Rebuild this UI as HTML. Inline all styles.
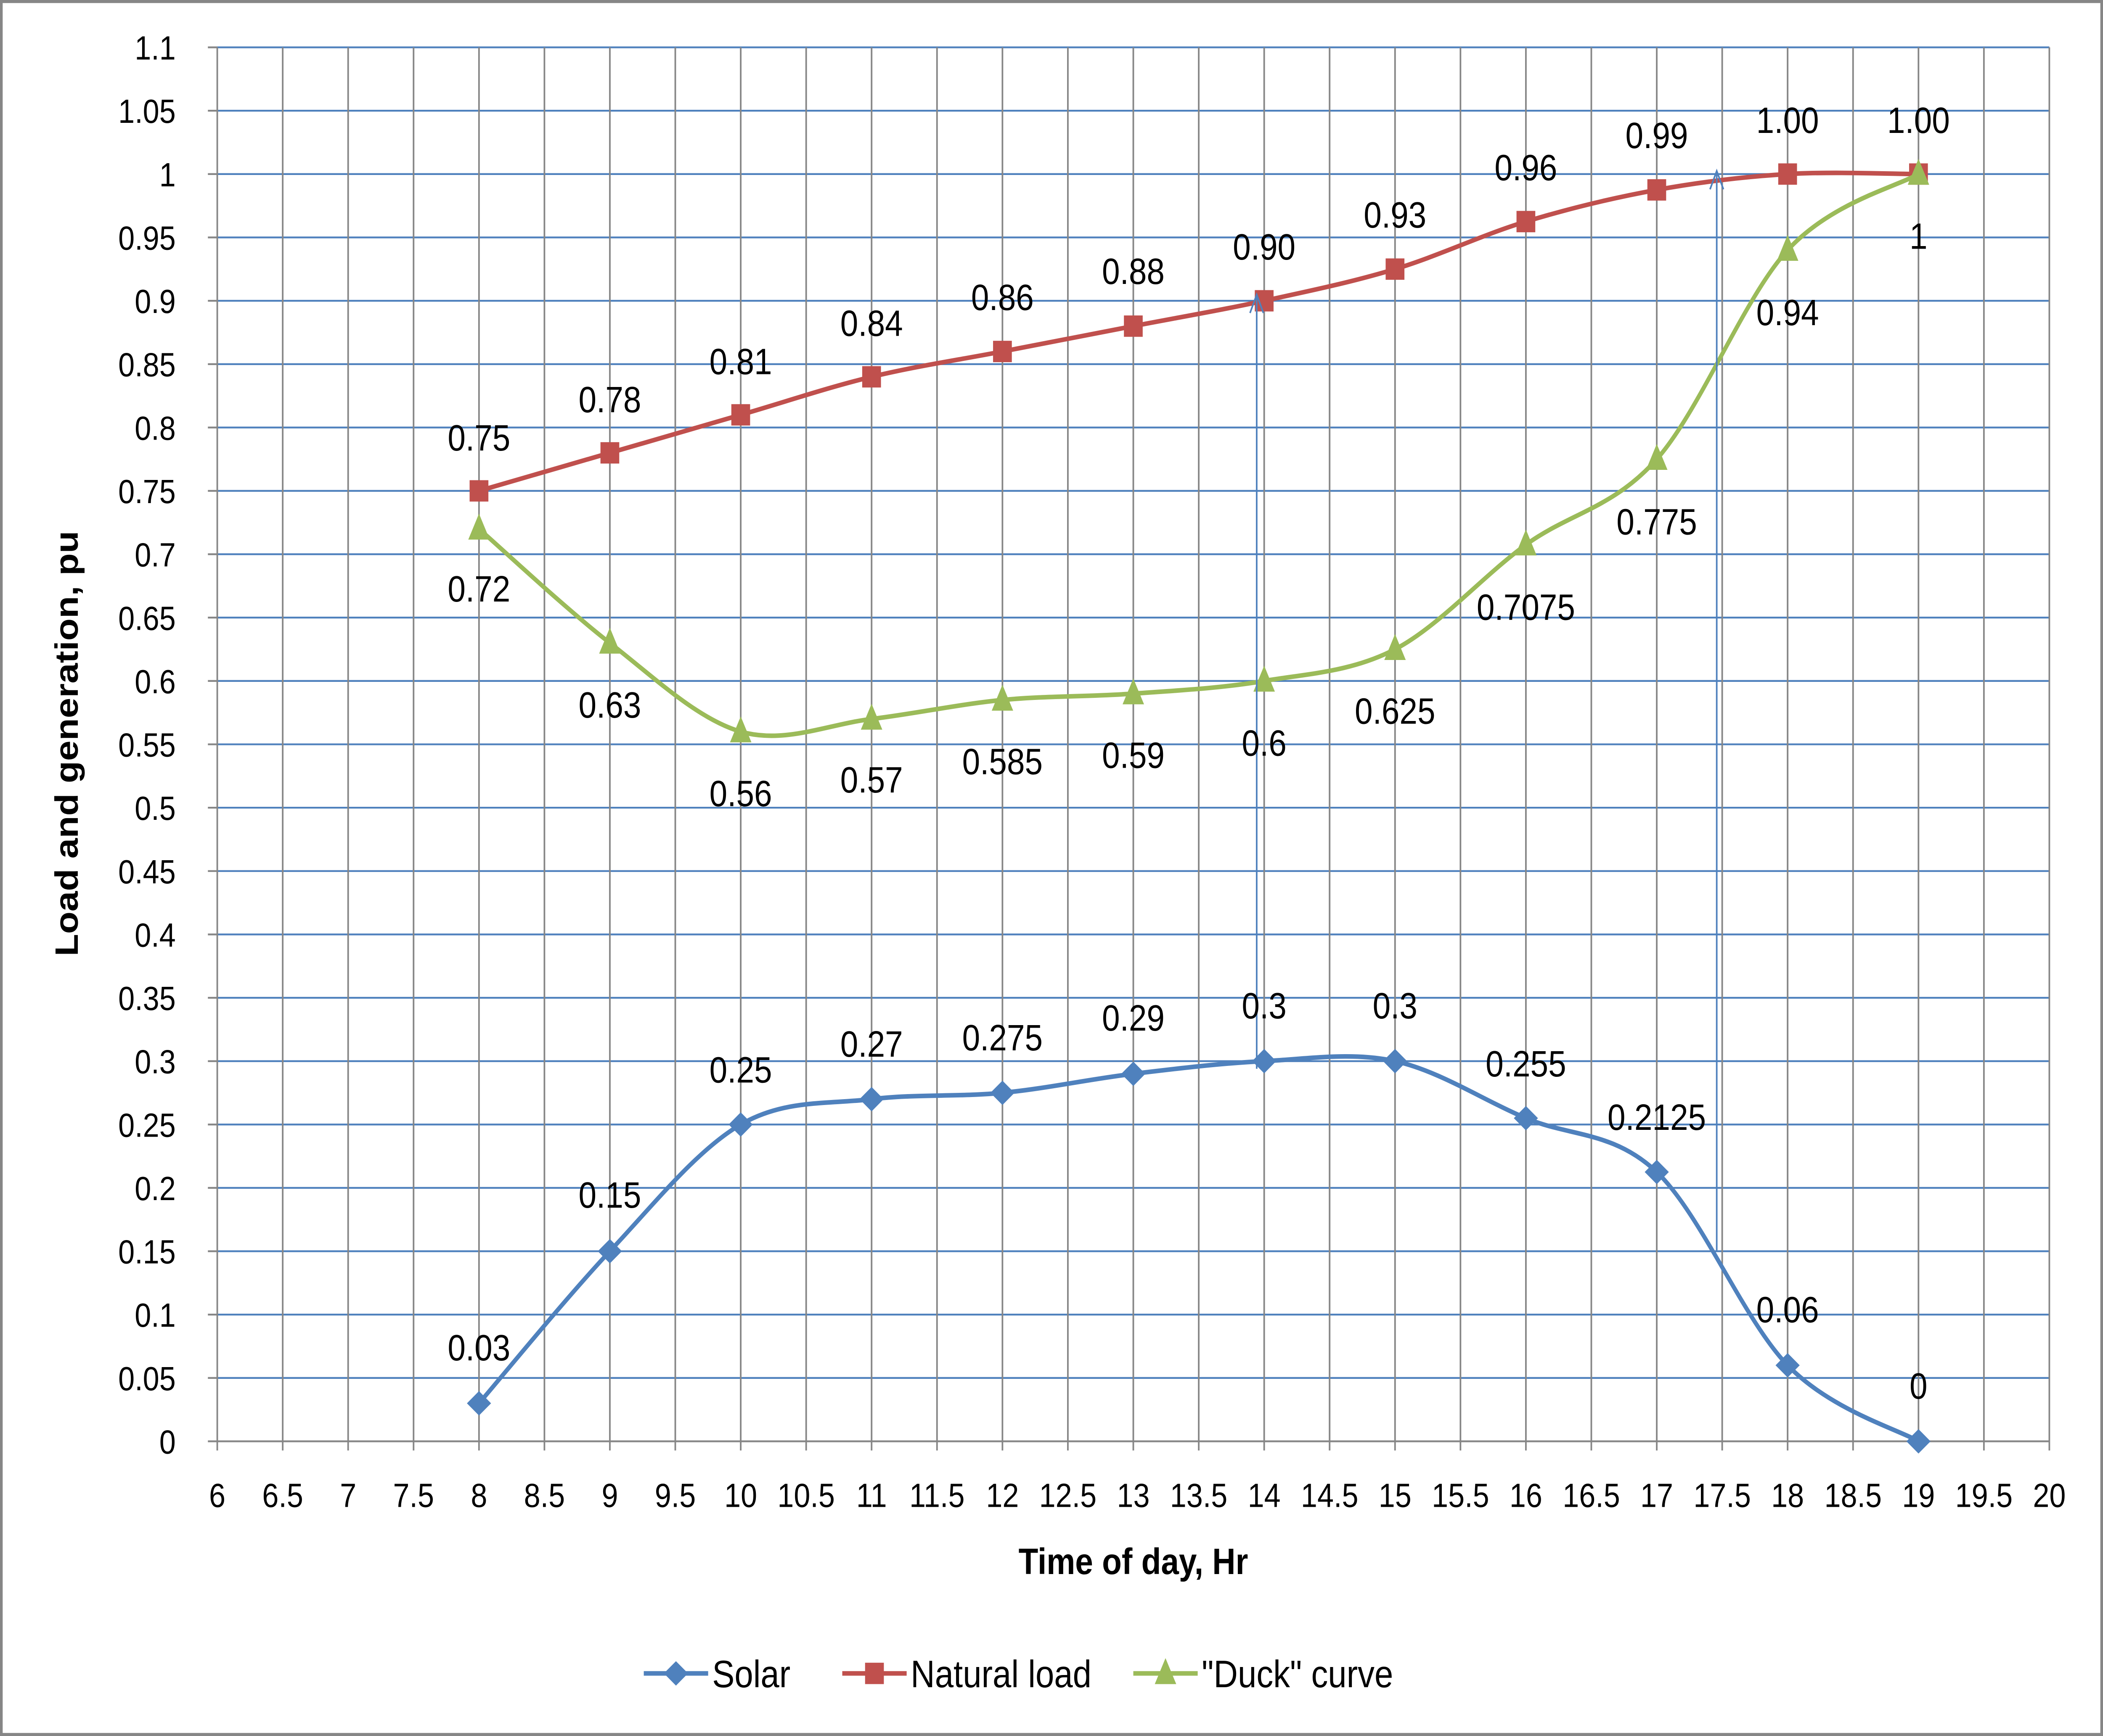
<!DOCTYPE html>
<html><head><meta charset="utf-8"><style>html,body{margin:0;padding:0;background:#fff;overflow:hidden;width:100%;height:100%}svg{display:block;width:100vw;height:100vh}text{font-family:"Liberation Sans",sans-serif;fill:#000}</style></head>
<body>
<svg id="s" viewBox="0 0 1568 1137" preserveAspectRatio="none" xmlns="http://www.w3.org/2000/svg">
<rect x="1" y="1" width="1566" height="1135" fill="#fff" stroke="#868686" stroke-width="2"/>
<g id="grid"></g>
<g id="series"></g>
<g id="labels" font-size="24" text-anchor="middle"></g>
<text x="845" y="1031" font-size="24" font-weight="bold" text-anchor="middle">Time of day, Hr</text>
<text transform="translate(58,487) rotate(-90)" font-size="24" font-weight="bold" text-anchor="middle">Load and generation, pu</text>
<g id="legend"></g>
</svg>
<script>
var NS="http://www.w3.org/2000/svg";
function X(h){return 162+(h-6)*97.571;}
function Y(v){return 944-v*(944-31)/1.1;}
function el(p,t,a,txt){var e=document.createElementNS(NS,t);for(var k in a)e.setAttribute(k,a[k]);if(txt!==undefined)e.textContent=txt;p.appendChild(e);return e;}
var g=document.getElementById('grid');
for(var i=0;i<=22;i++){var y=Y(i*0.05);
 el(g,'line',{x1:162,x2:1528,y1:y,y2:y,stroke:i==0?'#868686':'#4f81bd','stroke-width':1.2});
 el(g,'line',{x1:155,x2:162,y1:y,y2:y,stroke:'#868686','stroke-width':1.2});
 var lab=+(i*0.05).toFixed(2); el(g,'text',{x:131,y:y+8,'font-size':22,'text-anchor':'end'},String(lab));}
for(var j=0;j<=28;j++){var h=6+j*0.5,x=X(h);
 el(g,'line',{x1:x,x2:x,y1:31,y2:950,stroke:'#868686','stroke-width':1.2});
 el(g,'text',{x:x,y:987,'font-size':22,'text-anchor':'middle'},String(h));}
function path(pts){var d='M'+pts[0][0]+','+pts[0][1];
 for(var i=0;i<pts.length-1;i++){var p0=pts[i-1]||pts[i],p1=pts[i],p2=pts[i+1],p3=pts[i+2]||p2,t=6;
  d+=' C'+(p1[0]+(p2[0]-p0[0])/t)+','+(p1[1]+(p2[1]-p0[1])/t)+' '+(p2[0]-(p3[0]-p1[0])/t)+','+(p2[1]-(p3[1]-p1[1])/t)+' '+p2[0]+','+p2[1];}
 return d;}
var hrs=[8,9,10,11,12,13,14,15,16,17,18,19];
var solar=[0.03,0.15,0.25,0.27,0.275,0.29,0.3,0.3,0.255,0.2125,0.06,0];
var load=[0.75,0.78,0.81,0.84,0.86,0.88,0.90,0.925,0.9625,0.9875,1.0,1.0];
var duck=[0.72,0.63,0.56,0.57,0.585,0.59,0.6,0.625,0.7075,0.775,0.94,1];
var s=document.getElementById('series');
function marker(p,type,x,y,c){
 if(type=='d')el(p,'polygon',{points:(x)+','+(y-8)+' '+(x+9)+','+y+' '+x+','+(y+8)+' '+(x-9)+','+y,fill:c});
 else if(type=='s')el(p,'rect',{x:x-7,y:y-7,width:14,height:14,fill:c});
 else el(p,'polygon',{points:x+','+(y-10)+' '+(x+8)+','+(y+7)+' '+(x-8)+','+(y+7),fill:c});}
var ser=[[solar,'#4f81bd','d'],[load,'#c0504d','s'],[duck,'#9bbb59','t']];
ser.forEach(function(a){var pts=hrs.map(function(h,i){return [X(h),Y(a[0][i])];});
 el(s,'path',{d:path(pts),fill:'none',stroke:a[1],'stroke-width':3});
 pts.forEach(function(p){marker(s,a[2],p[0],p[1],a[1]);});});
function arrow(x,y1,y2){el(s,'line',{x1:x,x2:x,y1:y1,y2:y2,stroke:'#4f81bd','stroke-width':1.2});
 el(s,'polyline',{points:(x-5)+','+(y2+12)+' '+x+','+y2+' '+(x+5)+','+(y2+12),fill:'none',stroke:'#4f81bd','stroke-width':1.2});}
arrow(937,700,193);arrow(1280,820,112);
var L=document.getElementById('labels');
var sl=[['0.03',882],['0.15',782],['0.25',700],['0.27',683],['0.275',679],['0.29',666],['0.3',658],['0.3',658],['0.255',696],['0.2125',731],['0.06',857],['0',907]];
var nl=[['0.75',286],['0.78',261],['0.81',236],['0.84',211],['0.86',194],['0.88',177],['0.90',161],['0.93',140],['0.96',109],['0.99',88],['1.00',78],['1.00',78]];
var dl=[['0.72',385],['0.63',461],['0.56',519],['0.57',510],['0.585',498],['0.59',494],['0.6',486],['0.625',465],['0.7075',397],['0.775',341],['0.94',204],['1',154]];
[sl,nl,dl].forEach(function(a){a.forEach(function(l,i){el(L,'text',{x:X(hrs[i]),y:l[1]+9},l[0]);});});
var lg=document.getElementById('legend');
[[480,'#4f81bd','d','Solar'],[628,'#c0504d','s','Natural load'],[845,'#9bbb59','t','"Duck" curve']].forEach(function(a){
 el(lg,'line',{x1:a[0],x2:a[0]+48,y1:1096,y2:1096,stroke:a[1],'stroke-width':3});
 marker(lg,a[2],a[0]+24,1096,a[1]);
 el(lg,'text',{x:a[0]+51,y:1105,'font-size':25},a[3]);});
</script>
</body></html>
